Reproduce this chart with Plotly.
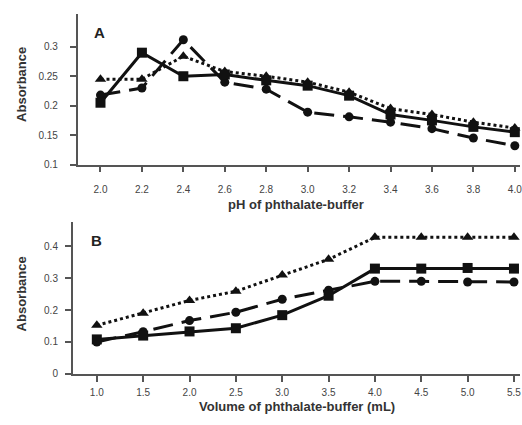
import plotly.graph_objects as go

W, H = 522, 425

# Panel A: pH of phthalate buffer
ph = [2.0, 2.2, 2.4, 2.6, 2.8, 3.0, 3.2, 3.4, 3.6, 3.8, 4.0]
a_square = [0.205, 0.290, 0.250, 0.253, 0.243, 0.234, 0.217, 0.185, 0.175, 0.164, 0.155]
a_triangle = [0.245, 0.245, 0.284, 0.258, 0.250, 0.240, 0.223, 0.195, 0.185, 0.172, 0.162]
a_circle = [0.218, 0.230, 0.312, 0.240, 0.228, 0.189, 0.181, 0.172, 0.161, 0.145, 0.132]

# Panel B: volume of phthalate buffer
vol = [1.0, 1.5, 2.0, 2.5, 3.0, 3.5, 4.0, 4.5, 5.0, 5.5]
b_square = [0.108, 0.120, 0.133, 0.143, 0.184, 0.245, 0.330, 0.330, 0.332, 0.330]
b_triangle = [0.152, 0.190, 0.230, 0.259, 0.310, 0.359, 0.428, 0.428, 0.428, 0.428]
b_circle = [0.100, 0.132, 0.167, 0.193, 0.234, 0.262, 0.290, 0.290, 0.288, 0.288]

a_yticks = [0.1, 0.15, 0.2, 0.25, 0.3]
a_yticktext = ["0.1", "0.15", "0.2", "0.25", "0.3"]
b_yticks = [0, 0.1, 0.2, 0.3, 0.4]
b_yticktext = ["0", "0.1", "0.2", "0.3", "0.4"]

FONT = "Liberation Sans, Arial, sans-serif"
INK = "#111111"
AX = "#555555"

fig = go.Figure()

def add_series(x, y, xa, ya, dash, symbol, msize):
    fig.add_trace(go.Scatter(
        x=x, y=y, xaxis=xa, yaxis=ya, mode="lines+markers",
        line=dict(color=INK, width=3, dash=dash),
        marker=dict(symbol=symbol, size=msize, color=INK),
        showlegend=False, cliponaxis=False))

add_series(ph, a_triangle, "x", "y", "dot", "triangle-up", 10)
add_series(ph, a_circle, "x", "y", "20px,9px", "circle", 9)
add_series(ph, a_square, "x", "y", "solid", "square", 10)

add_series(vol, b_triangle, "x2", "y2", "dot", "triangle-up", 10)
add_series(vol, b_circle, "x2", "y2", "20px,9px", "circle", 9)
add_series(vol, b_square, "x2", "y2", "solid", "square", 10)

tickfont = dict(family=FONT, size=10, color="#444444")

common_axis = dict(showgrid=False, zeroline=False, showline=True, linecolor=AX,
                   linewidth=1.5, ticks="outside", tickcolor=AX, tickwidth=1.5,
                   tickfont=tickfont, fixedrange=True, ticklabeloverflow="allow")

fig.update_layout(
    width=W, height=H,
    margin=dict(l=0, r=0, t=0, b=0),
    paper_bgcolor="white", plot_bgcolor="white",
    xaxis=dict(domain=[78 / W, 1], range=[1.89, 4.025], anchor="y",
               tickvals=ph, tickformat=".1f", ticklen=6, ticklabelstandoff=9,
               **common_axis),
    yaxis=dict(domain=[1 - 166.5 / H, 1 - 14 / H], range=[0.1, 0.356], anchor="x",
               tickvals=a_yticks, ticktext=a_yticktext, ticklen=6,
               ticklabelstandoff=10, **common_axis),
    xaxis2=dict(domain=[73 / W, 1], range=[0.74, 5.565], anchor="y2",
                tickvals=vol, tickformat=".1f", ticklen=6, ticklabelstandoff=2,
                **common_axis),
    yaxis2=dict(domain=[1 - 378.3 / H, 1 - 225 / H], range=[0, 0.475], anchor="x2",
                tickvals=b_yticks, ticktext=b_yticktext, ticklen=6,
                ticklabelstandoff=5, **common_axis),
)

def ann(text, px, py, size, angle=0, bold=True, color="#333333"):
    fig.add_annotation(
        text=f"<b>{text}</b>" if bold else text,
        x=px / W, y=1 - py / H, xref="paper", yref="paper",
        xanchor="center", yanchor="middle", showarrow=False, textangle=angle,
        font=dict(family=FONT, size=size, color=color))

ann("A", 100, 33, 15, color="#222222")
ann("B", 97, 243, 15, color="#222222")
ann("Absorbance", 22, 85, 13, angle=-90)
ann("Absorbance", 22, 297, 13, angle=-90)
ann("pH of phthalate-buffer", 297, 207, 13)
ann("Volume of phthalate-buffer (mL)", 298, 411, 13)

fig.write_html("out.html")
